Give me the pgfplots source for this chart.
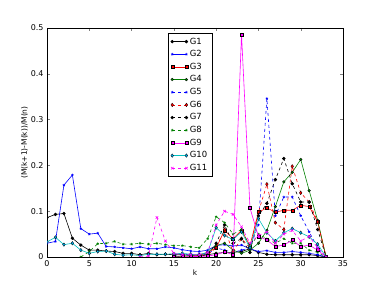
\documentclass[border=0pt]{standalone}
\usepackage{pgfplots}
\pgfplotsset{compat=1.18}
\usepackage{fontspec}
\setmainfont{DejaVu Sans}
\definecolor{mgreen}{rgb}{0,0.5,0}
\definecolor{mmag}{rgb}{1,0,1}
\definecolor{mcyan}{rgb}{0,0.75,0.75}
\begin{document}
\begin{tikzpicture}
\begin{axis}[name=ax,
  scale only axis, width=296bp, height=229bp,
  xmin=0, xmax=35, ymin=0, ymax=0.5,
  xtick={0,5,...,35}, ytick={0,0.1,...,0.5},
  yticklabel style={/pgf/number format/fixed, /pgf/number format/precision=1},
  /pgf/number format/assume math mode=true,
  tick label style={font=\fontsize{8}{9}\selectfont},
  label style={font=\fontsize{7.5}{8}\selectfont},
  xlabel={k}, ylabel={(M(k+1)-M(k))/M(n)},
  xlabel style={yshift=4pt}, ylabel style={yshift=-4pt},
  tick align=inside, tick pos=both, major tick length=3pt,
  axis line style={line width=0.6pt},
  clip marker paths=true,
  every axis plot/.append style={line width=0.6pt, mark size=1.4pt},
  legend style={at={(0.409,0.978)}, anchor=north west, font=\fontsize{8.5}{9}\selectfont,
    draw=black, row sep=0.9pt, inner sep=2.5pt, legend cell align=left},
  legend image code/.code={\draw[mark repeat=1,#1] plot coordinates {(0cm,0cm) (0.5cm,0cm)};},
]
% G1
\addplot[black, mark=*, mark options={solid}] coordinates {(0,.086)(1,.093)(2,.095)(3,.041)(4,.026)(5,.015)(6,.015)(7,.013)(8,.012)(9,.008)(10,.008)(11,.005)(12,.008)(13,.005)(14,.006)(15,.005)(16,.005)(17,.004)(18,.004)(19,.005)(20,.008)(21,.01)(22,.01)(23,.012)(24,.018)(25,.01)(26,.006)(27,.005)(28,.005)(29,.005)(30,.005)(31,.005)(32,.003)(33,0)};
\addlegendentry{G1}
% G2
\addplot[blue, mark=star, mark options={solid, mark size=1.3pt}] coordinates {(0,.03)(1,.034)(2,.157)(3,.179)(4,.062)(5,.05)(6,.052)(7,.023)(8,.022)(9,.02)(10,.018)(11,.022)(12,.018)(13,.018)(14,.022)(15,.02)(16,.016)(17,.013)(18,.012)(19,.015)(20,.025)(21,.027)(22,.024)(23,.026)(24,.018)(25,.012)(26,.014)(27,.01)(28,.01)(29,.012)(30,.01)(31,.008)(32,.005)(33,0)};
\addlegendentry{G2}
% G3
\addplot[red, mark=square*, mark options={solid, fill=red, draw=black, line width=0.3pt, mark size=1.5pt}] coordinates {(15,0)(16,0.002)(17,0.002)(18,0.003)(19,.01)(20,.02)(21,.058)(22,.04)(23,.058)(24,.025)(25,.098)(26,.107)(27,.098)(28,.102)(29,.102)(30,.113)(31,.11)(32,.077)(33,0)};
\addlegendentry{G3}
% G4
\addplot[mgreen, mark=*, mark options={solid, fill=mgreen, draw=black, line width=0.3pt}] coordinates {(15,0)(16,.002)(17,.003)(18,.005)(19,.01)(20,.025)(21,.03)(22,.015)(23,.008)(24,.015)(25,.03)(26,.058)(27,.11)(28,.164)(29,.185)(30,.213)(31,.145)(32,.08)(33,0)};
\addlegendentry{G4}
% G5
\addplot[blue, dashed, mark=star, mark options={solid, mark size=1.3pt}] coordinates {(15,.004)(16,.005)(17,.005)(18,.005)(19,.006)(20,.02)(21,.015)(22,.01)(23,.015)(24,.02)(25,.07)(26,.346)(27,.09)(28,.131)(29,.131)(30,.09)(31,.055)(32,.02)(33,0)};
\addlegendentry{G5}
% G6
\addplot[red, dashed, mark=diamond*, mark options={solid, fill=red, draw=black, line width=0.3pt, mark size=1.8pt}] coordinates {(17,0)(18,0.002)(19,.005)(20,.02)(21,.06)(22,.012)(23,.04)(24,.02)(25,.098)(26,.159)(27,.075)(28,.06)(29,.198)(30,.14)(31,.12)(32,.077)(33,0)};
\addlegendentry{G6}
% G7
\addplot[black, dashed, mark=*, mark options={solid}] coordinates {(17,0)(18,.002)(19,.005)(20,.03)(21,.07)(22,.03)(23,.04)(24,.01)(25,.09)(26,.117)(27,.169)(28,.215)(29,.16)(30,.12)(31,.12)(32,.06)(33,0)};
\addlegendentry{G7}
% G8
\addplot[mgreen, dashed, mark=star, mark options={solid, mark size=1.3pt}] coordinates {(4,0)(5,.012)(6,.029)(7,.03)(8,.034)(9,.028)(10,.028)(11,.03)(12,.028)(13,.03)(14,.027)(15,.025)(16,.025)(17,.022)(18,.02)(19,.04)(20,.088)(21,.075)(22,.05)(23,.06)(24,.022)(25,.05)(26,.04)(27,.03)(28,.04)(29,.03)(30,.03)(31,.015)(32,.01)(33,0)};
\addlegendentry{G8}
% G9
\addplot[mmag, mark=square*, mark options={solid, fill=mmag, draw=black, line width=0.3pt, mark size=1.5pt}] coordinates {(15,0)(16,0)(17,0.001)(18,0.001)(19,.002)(20,.005)(21,.011)(22,.005)(23,.486)(24,.107)(25,.045)(26,.037)(27,.023)(28,.026)(29,.037)(30,.023)(31,.026)(32,.015)(33,0)};
\addlegendentry{G9}
% G10
\addplot[mcyan, mark=diamond*, mark options={solid, fill=cyan, draw=black, line width=0.3pt, mark size=1.8pt}] coordinates {(0,.033)(1,.043)(2,.027)(3,.03)(4,.015)(5,.008)(6,.012)(7,.013)(8,.006)(9,.004)(10,.005)(11,.003)(12,.006)(13,.006)(14,.006)(15,.007)(16,.008)(17,.006)(18,.005)(19,.01)(20,.064)(21,.047)(22,.038)(23,.055)(24,.02)(25,.084)(26,.053)(27,.035)(28,.053)(29,.062)(30,.053)(31,.044)(32,.028)(33,0)};
\addlegendentry{G10}
% G11
\addplot[mmag, dashed, mark=x, mark options={solid, mark size=1.8pt}] coordinates {(11,0)(12,.002)(13,.086)(14,.035)(15,.008)(16,.005)(17,.005)(18,.005)(19,.01)(20,.07)(21,.1)(22,.093)(23,.066)(24,.03)(25,.047)(26,.055)(27,.03)(28,.05)(29,.058)(30,.035)(31,.045)(32,.02)(33,0)};
\addlegendentry{G11}
\end{axis}
\path[use as bounding box] ([shift={(-47bp,-29bp)}]ax.south west) rectangle ([shift={(39bp,28bp)}]ax.north east);
\end{tikzpicture}
\end{document}
